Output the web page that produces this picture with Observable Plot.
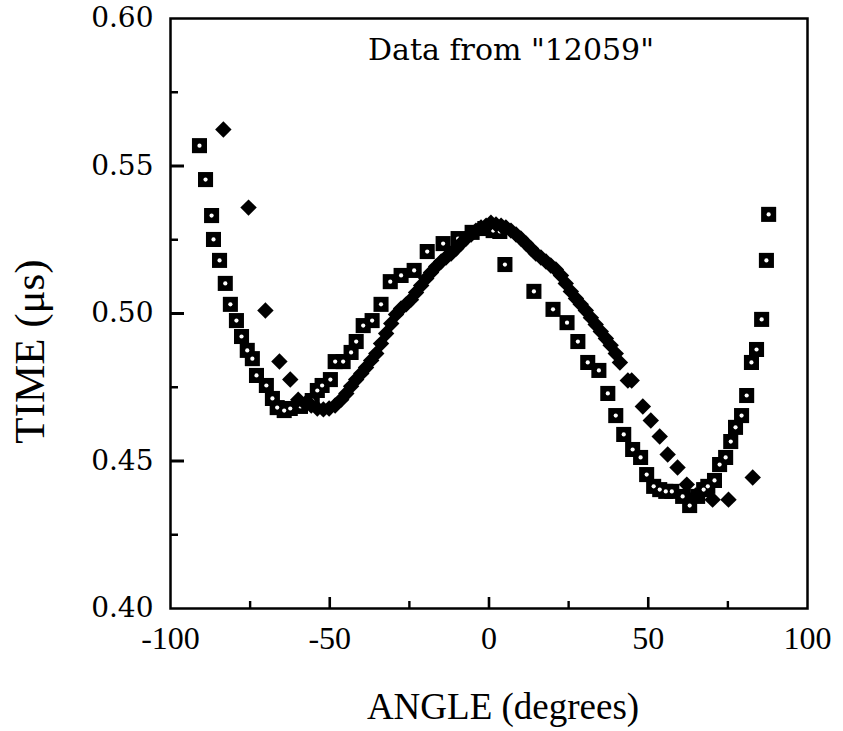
<!DOCTYPE html>
<html>
<head>
<meta charset="utf-8">
<script src="https://cdn.jsdelivr.net/npm/d3@7"></script>
<script src="https://cdn.jsdelivr.net/npm/@observablehq/plot@0.6"></script>
<style>
  html, body { margin: 0; padding: 0; background: #fff; }
  #chart svg { display: block; }
</style>
</head>
<body>
<div id="chart"></div>
<script>
// Hollow-square series (angle in degrees, time in microseconds)
const squareAngle = [-90.9, -89.0, -87.1, -86.5, -84.6, -82.8, -81.2, -79.3, -77.7, -75.9,
  -74.3, -73.0, -69.9, -68.0, -66.5, -64.3, -62.4, -59.2, -55.5, -53.9,
  -52.4, -49.8, -48.3, -45.8, -43.3, -41.7, -39.5, -36.7, -33.9, -31.0,
  -27.6, -23.5, -19.4, -14.4, -9.7, -5.3, -1.3, 1.3, 3.4, 5.0,
  14.1, 20.1, 24.5, 27.9, 31.0, 34.5, 37.3, 39.8, 42.3, 45.1,
  47.6, 49.5, 51.7, 53.6, 55.5, 57.4, 60.8, 63.0, 65.5, 67.4,
  68.7, 70.8, 72.4, 74.3, 75.9, 77.4, 79.3, 80.9, 82.4, 84.0,
  85.6, 87.1, 87.8];
const squareTime = [0.5569, 0.5454, 0.5332, 0.5251, 0.5180, 0.5102, 0.5031, 0.4976, 0.4922, 0.4875,
  0.4847, 0.4790, 0.4756, 0.4712, 0.4681, 0.4671, 0.4678, 0.4685, 0.4705, 0.4739,
  0.4756, 0.4776, 0.4837, 0.4837, 0.4868, 0.4905, 0.4959, 0.4976, 0.5031, 0.5108,
  0.5129, 0.5146, 0.5210, 0.5237, 0.5254, 0.5275, 0.5288, 0.5281, 0.5278, 0.5166,
  0.5075, 0.5014, 0.4969, 0.4905, 0.4834, 0.4807, 0.4729, 0.4654, 0.4590, 0.4539,
  0.4512, 0.4454, 0.4414, 0.4403, 0.4397, 0.4397, 0.4380, 0.4349, 0.4380, 0.4403,
  0.4414, 0.4434, 0.4488, 0.4512, 0.4566, 0.4614, 0.4654, 0.4722, 0.4834, 0.4878,
  0.4980, 0.5180, 0.5336];

// Filled-diamond series
const diamondAngle = [-83.4, -75.5, -70.2, -65.8, -62.4, -59.9, -57.7, -55.8, -53.9, -52.0,
  -50.2, -48.3, -46.4, -44.8, -43.3, -41.7, -40.1, -38.6, -37.0, -35.4,
  -33.9, -32.3, -30.7, -29.2, -27.6, -26.0, -24.5, -22.9, -21.3, -19.7,
  -18.2, -16.6, -15.0, -13.5, -11.9, -10.3, -8.8, -7.2, -5.6, -4.1,
  -2.5, -0.9, 0.6, 2.2, 3.8, 5.3, 6.9, 8.5, 10.0, 11.6,
  13.2, 14.7, 16.3, 17.9, 19.4, 21.0, 22.6, 24.1, 25.7, 27.3,
  28.8, 30.4, 32.0, 33.5, 35.1, 36.7, 38.2, 39.8, 41.1, 43.6,
  44.8, 48.3, 50.8, 53.6, 56.1, 59.2, 62.1, 64.9, 70.2, 75.2,
  82.8];
const diamondTime = [0.5624, 0.5359, 0.5010, 0.4837, 0.4776, 0.4708, 0.4695, 0.4688, 0.4678, 0.4675,
  0.4678, 0.4688, 0.4708, 0.4729, 0.4753, 0.4776, 0.4797, 0.4817, 0.4841, 0.4864,
  0.4898, 0.4932, 0.4966, 0.4997, 0.5017, 0.5031, 0.5047, 0.5071, 0.5095, 0.5119,
  0.5139, 0.5159, 0.5176, 0.5190, 0.5203, 0.5220, 0.5237, 0.5254, 0.5268, 0.5281,
  0.5292, 0.5298, 0.5308, 0.5302, 0.5298, 0.5292, 0.5281, 0.5268, 0.5254, 0.5237,
  0.5220, 0.5203, 0.5190, 0.5176, 0.5163, 0.5149, 0.5129, 0.5102, 0.5075, 0.5051,
  0.5031, 0.5010, 0.4986, 0.4963, 0.4939, 0.4915, 0.4892, 0.4864, 0.4834, 0.4773,
  0.4773, 0.4685, 0.4637, 0.4583, 0.4522, 0.4478, 0.4420, 0.4383, 0.4369, 0.4369,
  0.4444];

// Axis ticks and labels
const xTickLabels = [-100, -50, 0, 50, 100];
const xMajorTicks = [-50, 0, 50];
const xMinorTicks = [-75, -25, 25, 75];
const yTickLabels = [0.40, 0.45, 0.50, 0.55, 0.60];
const yMajorTicks = [0.45, 0.50, 0.55];
const yMinorTicks = [0.425, 0.475, 0.525, 0.575];

const titleText = 'Data from "12059"';
const xLabel = "ANGLE (degrees)";
const yLabel = "TIME (\u03bcs)";

const squares = squareAngle.map((a, i) => ({angle: a, time: squareTime[i]}));
const diamonds = diamondAngle.map((a, i) => ({angle: a, time: diamondTime[i]}));

const serif = "'Liberation Serif', 'Times New Roman', serif";
const wideSerif = "'DejaVu Serif', serif";

const W = 843, H = 731, ML = 170, MR = 36, MT = 18, MB = 123;
const frameW = W - ML - MR, frameH = H - MT - MB;

const chart = Plot.plot({
  width: W,
  height: H,
  marginLeft: ML,
  marginRight: MR,
  marginTop: MT,
  marginBottom: MB,
  style: {fontFamily: serif, background: "white", color: "black"},
  x: {domain: [-100, 100], axis: null},
  y: {domain: [0.40, 0.60], axis: null},
  marks: [
    Plot.frame({stroke: "black", strokeWidth: 2.5}),
    // inward ticks: short rules anchored on the left / bottom edge of the frame
    Plot.ruleY(yMajorTicks, {y: d => d, insetRight: frameW - 14, stroke: "black", strokeWidth: 3}),
    Plot.ruleY(yMinorTicks, {y: d => d, insetRight: frameW - 8, stroke: "black", strokeWidth: 2.5}),
    Plot.ruleX(xMajorTicks, {x: d => d, insetTop: frameH - 11, stroke: "black", strokeWidth: 2.6}),
    Plot.ruleX(xMinorTicks, {x: d => d, insetTop: frameH - 7, stroke: "black", strokeWidth: 2.4}),
    // tick labels
    Plot.axisY({ticks: yTickLabels, tickSize: 0, tickPadding: 17, tickFormat: d3.format(".2f"),
      fontSize: 28, fontFamily: wideSerif, letterSpacing: 2.8, stroke: "black", strokeWidth: 0.6, label: null}),
    Plot.axisX({ticks: xTickLabels, tickSize: 0, tickPadding: 18, tickFormat: d => String(d),
      fontSize: 32, fontFamily: serif, letterSpacing: 1.5, label: null}),
    // data
    Plot.dot(squares, {x: "angle", y: "time", symbol: "square", r: 8.5, fill: "black"}),
    Plot.dot(squares, {x: "angle", y: "time", r: 2.1, fill: "white"}),
    Plot.dot(diamonds, {x: "angle", y: "time", symbol: "diamond2", r: 7.4, fill: "black"}),
    // texts
    Plot.text([titleText], {frameAnchor: "top", dx: 22, dy: 20, fontSize: 30, letterSpacing: 0.5, fontFamily: wideSerif, fill: "black"}),
    Plot.text([xLabel], {frameAnchor: "bottom", dx: 14, dy: 110, fontSize: 37, fontFamily: serif, fill: "black"}),
    Plot.text([yLabel], {frameAnchor: "left", textAnchor: "middle", dx: -140, dy: 38, rotate: -90, fontSize: 43, letterSpacing: 1.5, fontFamily: serif, fill: "black"})
  ]
});
document.getElementById("chart").appendChild(chart);
</script>
</body>
</html>
